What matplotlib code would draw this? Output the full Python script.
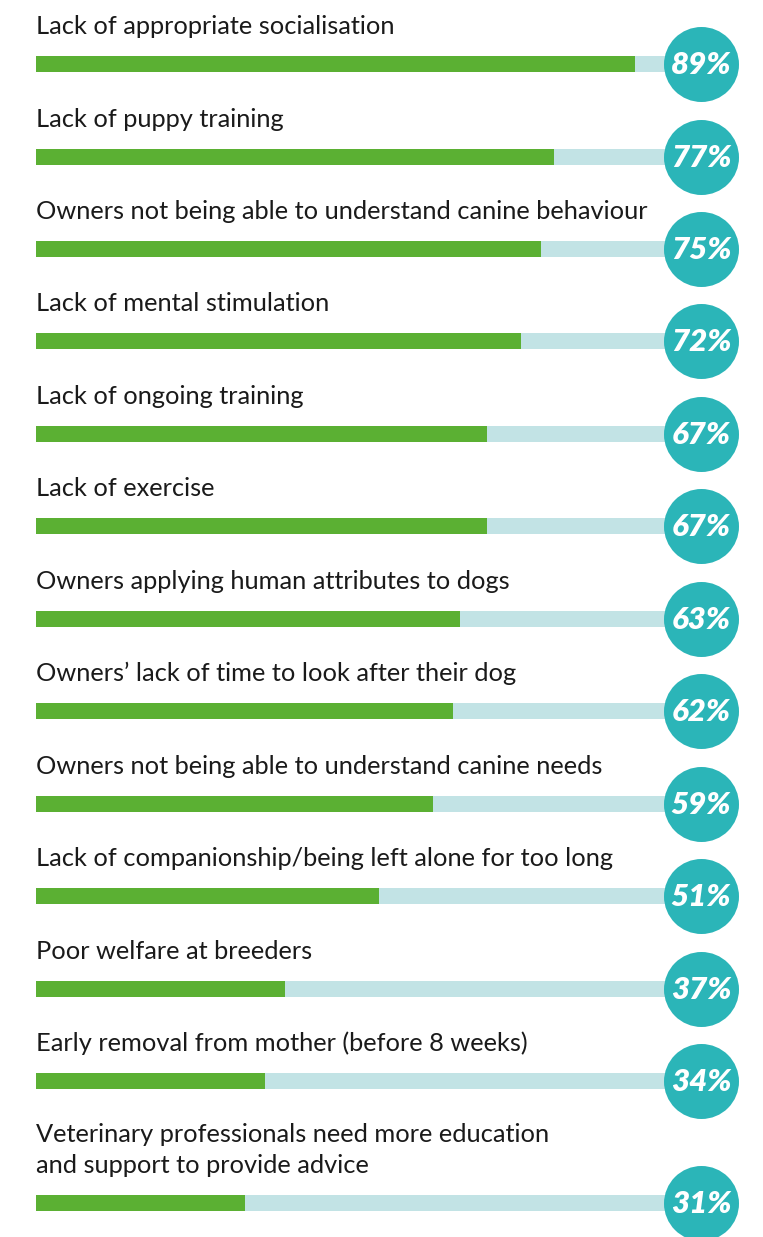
import matplotlib
matplotlib.use("Agg")
import matplotlib.pyplot as plt

labels = [
    "Lack of appropriate socialisation",
    "Lack of puppy training",
    "Owners not being able to understand canine behaviour",
    "Lack of mental stimulation",
    "Lack of ongoing training",
    "Lack of exercise",
    "Owners applying human attributes to dogs",
    "Owners\u2019 lack of time to look after their dog",
    "Owners not being able to understand canine needs",
    "Lack of companionship/being left alone for too long",
    "Poor welfare at breeders",
    "Early removal from mother (before 8 weeks)",
    "Veterinary professionals need more education\nand support to provide advice",
]
values = [89, 77, 75, 72, 67, 67, 63, 62, 59, 51, 37, 34, 31]

# layout (pixel rows of each bar centre)
row_y = [64, 157, 249, 341, 434, 526, 619, 711, 804, 896, 989, 1081, 1203]

W, H = 763, 1237
fig = plt.figure(figsize=(W / 100, H / 100), dpi=100)
ax = fig.add_axes([36 / W, 0, 673 / W, 1])
ax.set_xlim(0, 100)
ax.set_ylim(H, 0)
ax.axis("off")

green = "#5BB033"
light = "#C2E3E5"
teal = "#2BB5B8"
bar_h = 16

ax.barh(row_y, [100] * len(values), height=bar_h, color=light, left=0, zorder=1)
ax.barh(row_y, values, height=bar_h, color=green, left=0, zorder=2)

circle_x = 98.8
ax.scatter([circle_x] * len(values), row_y, s=54 ** 2, color=teal, zorder=3,
           clip_on=False, linewidths=0)

for lab, v, y in zip(labels, values, row_y):
    ax.text(0, y - 26, lab, ha="left", va="bottom", fontsize=18.3,
            family="Lato", color="#1a1a1a", linespacing=1.42)
    ax.text(circle_x, y + 1, f"{v}%", ha="center", va="center", fontsize=22.5,
            family="Lato", fontweight="heavy", style="italic", color="white",
            zorder=4, clip_on=False)

fig.savefig("out.png", dpi=100)
